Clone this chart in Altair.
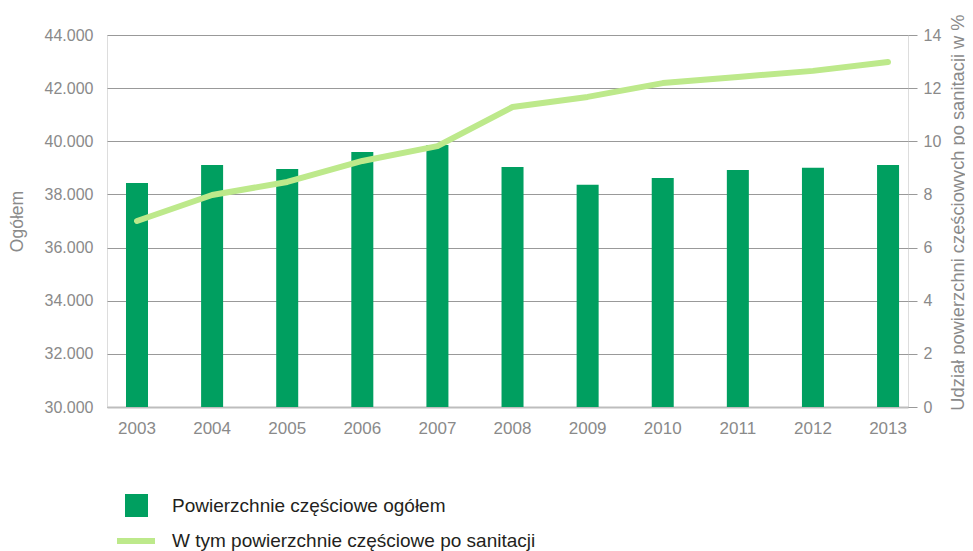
import altair as alt
import pandas as pd

years = ["2003", "2004", "2005", "2006", "2007", "2008", "2009", "2010", "2011", "2012", "2013"]
totals = [38430, 39110, 38960, 39600, 39860, 39030, 38360, 38620, 38920, 39000, 39110]
shares = [7.0, 7.98, 8.47, 9.26, 9.82, 11.29, 11.67, 12.19, 12.42, 12.65, 12.98]
left_ticks = [30000, 32000, 34000, 36000, 38000, 40000, 42000, 44000]
right_ticks = [0, 2, 4, 6, 8, 10, 12, 14]
bar_name = "Powierzchnie częściowe ogółem"
line_name = "W tym powierzchnie częściowe po sanitacji"

BAR_GREEN = "#009F60"
LINE_GREEN = "#BDE98B"
LABEL_GRAY = "#8a8a8a"
FONT = "Liberation Sans"

df = pd.DataFrame({
    "year": years,
    "total": totals,
    "share": shares,
    "bar_series": [bar_name] * len(years),
    "line_series": [line_name] * len(years),
})

x_enc = alt.X(
    "year:O",
    sort=years,
    title=None,
    scale=alt.Scale(paddingInner=0.707, paddingOuter=0.186, align=0.68),
    axis=alt.Axis(
        labelAngle=0, ticks=False, domainColor="#bdbdbd", domainWidth=2,
        labelFont=FONT, labelFontSize=17, labelColor=LABEL_GRAY, labelPadding=13,
    ),
)

bars = alt.Chart(df).mark_bar().encode(
    x=x_enc,
    y=alt.Y(
        "total:Q",
        scale=alt.Scale(domain=[30000, 44000], zero=False, nice=False),
        axis=alt.Axis(
            values=left_ticks, domain=False, ticks=False, grid=True,
            gridColor="#999999", gridWidth=1,
            labelExpr="replace(format(datum.value, ','), ',', '.')",
            labelFont=FONT, labelFontSize=16, labelColor=LABEL_GRAY, labelPadding=14,
            title="Ogółem", titleFont=FONT, titleFontSize=17.5, titleFontWeight="normal",
            titleColor=LABEL_GRAY, titleAngle=270, titleAlign="center",
            titleBaseline="alphabetic", titleX=-85, titleY=186,
        ),
    ),
    y2=alt.Y2Datum(30000),
    fill=alt.Fill(
        "bar_series:N",
        scale=alt.Scale(domain=[bar_name], range=[BAR_GREEN]),
        legend=alt.Legend(
            title=None, orient="none", legendX=18, legendY=459, padding=0,
            symbolType="square", symbolSize=529, symbolStrokeWidth=0,
            labelFont=FONT, labelFontSize=19, labelColor="#231f20", labelOffset=24,
            labelLimit=0,
        ),
    ),
)

line = alt.Chart(df).mark_line(strokeWidth=6, strokeCap="round", strokeJoin="round").encode(
    x=x_enc,
    y=alt.Y(
        "share:Q",
        scale=alt.Scale(domain=[0, 14], nice=False),
        axis=alt.Axis(
            orient="right", values=right_ticks, domain=False, grid=False,
            ticks=True, tickSize=9, tickColor="#999999",
            labelFont=FONT, labelFontSize=16, labelColor=LABEL_GRAY, labelPadding=6,
            title="Udział powierzchni częściowych po sanitacji w %",
            titleFont=FONT, titleFontSize=18.3, titleFontWeight="normal",
            titleColor=LABEL_GRAY, titleAngle=270, titleAlign="center",
            titleBaseline="alphabetic", titleX=55, titleY=177, titleLimit=0,
        ),
    ),
    stroke=alt.Stroke(
        "line_series:N",
        scale=alt.Scale(domain=[line_name], range=[LINE_GREEN]),
        legend=alt.Legend(
            title=None, orient="none", legendX=7, legendY=484, padding=0,
            symbolType="stroke", symbolSize=1444, symbolStrokeWidth=6,
            labelFont=FONT, labelFontSize=19, labelColor="#231f20", labelOffset=14,
            labelLimit=0,
        ),
    ),
)

chart = alt.layer(bars, line).resolve_scale(y="independent").properties(
    width=801,
    height=372,
    autosize=alt.AutoSizeParams(type="none"),
    padding={"left": 99, "top": 27, "right": 57, "bottom": 150},
).configure_view(stroke=None).configure(background="white")

chart.save("out.html", embed_options={"renderer": "svg", "actions": False})
